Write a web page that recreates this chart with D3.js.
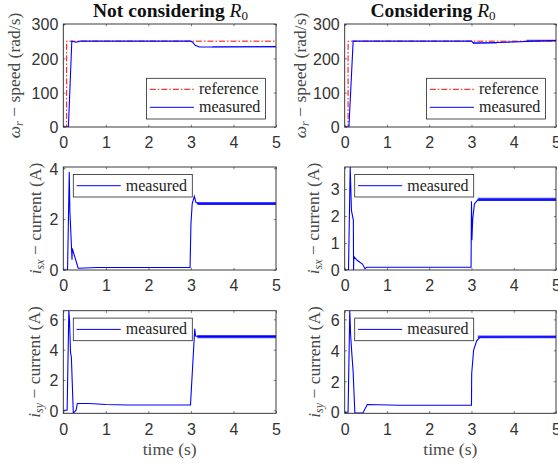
<!DOCTYPE html>
<html>
<head>
<meta charset="utf-8">
<script src="https://cdn.jsdelivr.net/npm/d3@7"></script>
<style>
  html, body { margin: 0; padding: 0; background: #fff; }
  svg { display: block; }
</style>
</head>
<body>
<svg id="fig" width="558" height="463"></svg>
<script>
// ---------- data ----------
const timeTicks = [0, 1, 2, 3, 4, 5];
const speedTicks = [0, 100, 200, 300];
const isxTicksA = [0, 2, 4];
const isxTicksB = [0, 1, 2, 3];
const isyTicks = [0, 2, 4, 6];

// speed reference (rad/s)
const refT = [0, 0.08, 0.08, 5];
const refV = [0, 0, 250, 250];

// not considering R0
const speedT_A = [0, 0.12, 0.2, 0.3, 0.4, 3.0, 3.05, 3.1, 3.2, 3.5, 5];
const speedV_A = [0, 0, 250, 247, 250, 250, 246, 238, 233, 233, 234];
const speedBand_A = [[3.5, 5, 232.5, 235]];

const isxT_A = [0, 0.1, 0.14, 0.155, 0.19, 0.205, 0.21, 0.35, 0.8, 2.98, 3.0, 3.03, 3.08, 3.12, 3.2, 5];
const isxV_A = [0, 0, 3.85, 2.3, 1.0, 0.4, 0.85, 0.07, 0.1, 0.1, 1.8, 2.6, 2.9, 2.65, 2.6, 2.6];
const isxBand_A = [[3.15, 5, 2.56, 2.67]];

const isyT_A = [0, 0.09, 0.13, 0.145, 0.17, 0.19, 0.235, 0.28, 0.3, 0.33, 0.6, 1.0, 1.5, 2.99, 3.09, 3.11, 3.2, 5];
const isyV_A = [0, 0, 6.56, 6.0, 3.8, 3.5, -0.2, -0.05, 0.0, 0.45, 0.45, 0.38, 0.35, 0.35, 5.38, 4.9, 4.86, 4.86];
const isyBand_A = [[3.15, 5, 4.76, 4.96]];

// considering R0
const speedT_B = [0, 0.1, 0.2, 3.0, 3.05, 3.6, 4.3, 5];
const speedV_B = [0, 0, 250, 250, 244, 246, 249, 252];
const speedBand_B = [[3.03, 3.6, 243, 247], [4.3, 5, 249, 254]];

const isxT_B = [0, 0.09, 0.13, 0.16, 0.205, 0.21, 0.215, 0.3, 0.42, 0.48, 0.52, 2.99, 3.0, 3.01, 3.03, 3.07, 3.15, 5];
const isxV_B = [0, 0, 3.82, 2.2, 1.85, 0.0, 0.5, 0.35, 0.22, 0.05, 0.1, 0.1, 2.55, 1.1, 1.9, 2.45, 2.6, 2.6];
const isxBand_B = [[3.15, 5, 2.56, 2.68]];

const isyT_B = [0, 0.08, 0.12, 0.14, 0.166, 0.2, 0.24, 0.43, 0.535, 1.3, 3.0, 3.005, 3.05, 3.12, 3.2, 5];
const isyV_B = [0, 0, 6.56, 5.0, 3.9, 2.6, -0.05, -0.05, 0.5, 0.45, 0.45, 2.5, 4.0, 4.6, 4.85, 4.87];
const isyBand_B = [[3.15, 5, 4.78, 4.96]];

// ---------- layout ----------
const svg = d3.select("#fig");
const BLUE = "#0000ff", RED = "#ff0000", AX = "#262626";
const SERIF = "'Liberation Serif', 'DejaVu Serif', serif";
const SANS = "'Liberation Sans', Arial, sans-serif";

const cols = [{x0: 63.3, x1: 276}, {x0: 344.7, x1: 556}];
const rows = [{y0: 24, y1: 127}, {y0: 167, y1: 270}, {y0: 310.7, y1: 413.3}];

const panels = [
  {c: 0, r: 0, ylim: [0, 300], ticks: speedTicks, kind: "speed", t: speedT_A, v: speedV_A, band: speedBand_A, labX: 19.5},
  {c: 1, r: 0, ylim: [0, 300], ticks: speedTicks, kind: "speed", t: speedT_B, v: speedV_B, band: speedBand_B, labX: 305.5},
  {c: 0, r: 1, ylim: [0, 4.05], ticks: isxTicksA, kind: "isx", t: isxT_A, v: isxV_A, band: isxBand_A, labX: 40.5},
  {c: 1, r: 1, ylim: [0, 3.82], ticks: isxTicksB, kind: "isx", t: isxT_B, v: isxV_B, band: isxBand_B, labX: 319},
  {c: 0, r: 2, ylim: [-0.2, 6.57], ticks: isyTicks, kind: "isy", t: isyT_A, v: isyV_A, band: isyBand_A, labX: 40},
  {c: 1, r: 2, ylim: [-0.07, 6.56], ticks: isyTicks, kind: "isy", t: isyT_B, v: isyV_B, band: isyBand_B, labX: 319.5}
];

const defs = svg.append("defs");

panels.forEach((p, i) => {
  const col = cols[p.c], row = rows[p.r];
  const x = d3.scaleLinear().domain([0, 5]).range([col.x0, col.x1]);
  const y = d3.scaleLinear().domain(p.ylim).range([row.y1, row.y0]);
  const g = svg.append("g");

  defs.append("clipPath").attr("id", "clip" + i)
    .append("rect").attr("x", col.x0).attr("y", row.y0)
    .attr("width", col.x1 - col.x0).attr("height", row.y1 - row.y0);

  // axes with inward ticks, box on all four sides
  const tl = 2.2;
  const fmt = d3.format("d");
  const bottom = g.append("g").attr("transform", `translate(0,${row.y1})`)
    .call(d3.axisBottom(x).tickValues(timeTicks).tickSizeInner(-tl).tickSizeOuter(0).tickPadding(7).tickFormat(fmt));
  const top = g.append("g").attr("transform", `translate(0,${row.y0})`)
    .call(d3.axisTop(x).tickValues(timeTicks).tickSizeInner(-tl).tickSizeOuter(0).tickFormat(""));
  const left = g.append("g").attr("transform", `translate(${col.x0},0)`)
    .call(d3.axisLeft(y).tickValues(p.ticks).tickSizeInner(-tl).tickSizeOuter(0).tickPadding(5).tickFormat(fmt));
  const right = g.append("g").attr("transform", `translate(${col.x1},0)`)
    .call(d3.axisRight(y).tickValues(p.ticks).tickSizeInner(-tl).tickSizeOuter(0).tickFormat(""));
  [bottom, top, left, right].forEach(a => {
    a.select(".domain").remove();
    a.selectAll("line").attr("stroke", AX).attr("stroke-width", 0.6);
    a.selectAll("text").attr("fill", "#333").attr("font-family", SANS).attr("font-size", 16);
  });
  bottom.selectAll("text").attr("dy", "0.9em");
  left.selectAll("text").attr("dy", "0.36em");

  const plot = g.append("g").attr("clip-path", `url(#clip${i})`);

  // ripple envelopes of the measured signal
  const area = d3.area().x(d => x(d[0])).y0(d => y(d[1])).y1(d => y(d[2]));
  p.band.forEach(b => {
    plot.append("path")
      .attr("d", area([[b[0], b[2], b[3]], [b[1], b[2], b[3]]]))
      .attr("fill", BLUE).attr("fill-opacity", 0.75);
  });

  const line = d3.line().x(d => x(d[0])).y(d => y(d[1]));
  if (p.kind === "speed") {
    plot.append("path").datum(d3.zip(refT, refV)).attr("d", line)
      .attr("fill", "none").attr("stroke", RED).attr("stroke-width", 1)
      .attr("stroke-dasharray", "6,2,1.5,2");
  }
  plot.append("path").datum(d3.zip(p.t, p.v)).attr("d", line)
    .attr("fill", "none").attr("stroke", BLUE).attr("stroke-width", 1.1);

  // frame
  g.append("rect").attr("x", col.x0).attr("y", row.y0)
    .attr("width", col.x1 - col.x0).attr("height", row.y1 - row.y0)
    .attr("fill", "none").attr("stroke", AX).attr("stroke-width", 0.9);

  // legend
  const entries = p.kind === "speed"
    ? [{name: "reference", color: RED, dash: "6,2,1.5,2"}, {name: "measured", color: BLUE, dash: null}]
    : [{name: "measured", color: BLUE, dash: null}];
  const lw = 119, lh = entries.length === 2 ? 40.7 : 22.6;
  const lx = p.kind === "speed" ? col.x1 - 10.5 - lw : col.x0 + 10;
  const ly = p.kind === "speed" ? row.y1 - 8 - lh : row.y0 + 7.4;
  const lg = g.append("g");
  lg.append("rect").attr("x", lx).attr("y", ly).attr("width", lw).attr("height", lh)
    .attr("fill", "#fff").attr("stroke", AX).attr("stroke-width", 0.8);
  entries.forEach((e, k) => {
    const cy = entries.length === 2 ? ly + 11 + k * 18 : ly + lh / 2;
    lg.append("line").attr("x1", lx + 3.3).attr("x2", lx + 47.5).attr("y1", cy).attr("y2", cy)
      .attr("stroke", e.color).attr("stroke-width", 1).attr("stroke-dasharray", e.dash);
    lg.append("text").attr("x", lx + 52.5).attr("y", cy + 5)
      .attr("font-family", SERIF).attr("font-size", 16).attr("fill", "#222").text(e.name);
  });

  // y label (rotated)
  const cy = (row.y0 + row.y1) / 2;
  const yl = svg.append("text")
    .attr("transform", `translate(${p.labX},${cy}) rotate(-90)`)
    .attr("text-anchor", "middle").attr("font-family", SERIF).attr("font-size", 17.5).attr("fill", "#4a4a4a");
  if (p.kind === "speed") {
    yl.append("tspan").attr("font-style", "italic").text("ω");
    yl.append("tspan").attr("font-style", "italic").attr("font-size", 12).attr("dy", 3).text("r");
    yl.append("tspan").attr("dy", -3).text(" − speed (rad/s)");
  } else {
    yl.append("tspan").attr("font-style", "italic").text("i");
    yl.append("tspan").attr("font-style", "italic").attr("font-size", 12).attr("dy", 3).text(p.kind === "isx" ? "sx" : "sy");
    yl.append("tspan").attr("dy", -3).text(" − current (A)");
  }

  // x label on the bottom row
  if (p.r === 2) {
    svg.append("text").attr("x", (col.x0 + col.x1) / 2).attr("y", 454.5)
      .attr("text-anchor", "middle").attr("font-family", SERIF).attr("font-size", 17.5)
      .attr("fill", "#4a4a4a").text("time (s)");
  }
});

// column titles
const titles = [{x: 170.5, text: "Not considering "}, {x: 433, text: "Considering "}];
titles.forEach(tt => {
  const t = svg.append("text").attr("x", tt.x).attr("y", 17)
    .attr("text-anchor", "middle").attr("font-family", SERIF).attr("font-weight", "bold")
    .attr("font-size", 19.5).attr("fill", "#111");
  t.append("tspan").text(tt.text);
  t.append("tspan").attr("font-style", "italic").attr("font-weight", "normal").text("R");
  t.append("tspan").attr("font-size", 13).attr("dy", 3).attr("font-weight", "normal").text("0");
});
</script>
</body>
</html>
